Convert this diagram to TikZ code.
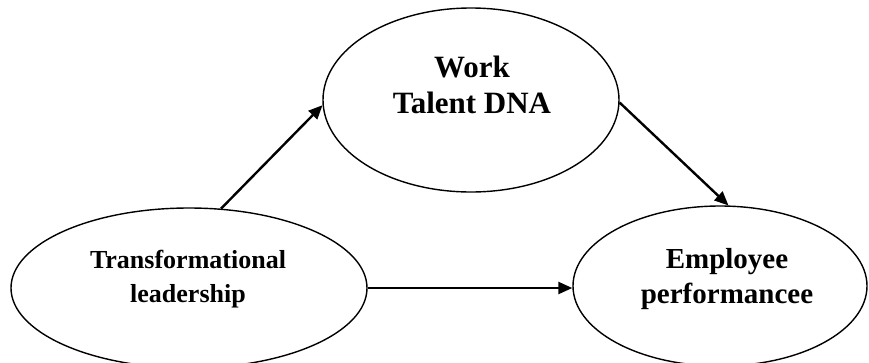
\documentclass[tikz,border=0pt]{standalone}
\usepackage{fontspec}
\setmainfont{Liberation Serif}
\usetikzlibrary{shapes.geometric,arrows.meta}
\begin{document}
\begin{tikzpicture}[x=1pt,y=-1pt,
  construct/.style={draw=black,ellipse,line width=1.4pt,inner sep=0pt},
  link/.style={line width=2.4pt,-{Triangle[length=14pt,width=12pt]}},
  lbl/.style={anchor=base,inner sep=0pt,font=\bfseries}]
  \useasboundingbox (0,0) rectangle (869,362);
  % the three constructs
  \node[construct,minimum width=296pt,minimum height=184pt] (T) at (471,100) {};
  \node[construct,minimum width=356pt,minimum height=160pt] (L) at (189,288) {};
  \node[construct,minimum width=294pt,minimum height=160pt] (R) at (720,286) {};
  % labels
  \node[lbl,font=\bfseries\fontsize{31}{36}\selectfont] (t1) at (472,77) {Work};
  \node[lbl,font=\bfseries\fontsize{31}{36}\selectfont] (t2) at (472,113) {Talent DNA};
  \node[lbl,font=\bfseries\fontsize{26}{34}\selectfont] (l1) at (188,268) {Transformational};
  \node[lbl,font=\bfseries\fontsize{26}{34}\selectfont] (l2) at (188,302) {leadership};
  \node[lbl,font=\bfseries\fontsize{29}{35}\selectfont] (r1) at (727,268) {Employee};
  \node[lbl,font=\bfseries\fontsize{29}{35}\selectfont] (r2) at (727,303) {performancee};
  % paths
  \draw[link] (L.68) -- (T.182);
  \draw[link] (T.-1) -- (R.84);
  \draw[link] (L.east) -- (L.east -| R.west);
\end{tikzpicture}
\end{document}
